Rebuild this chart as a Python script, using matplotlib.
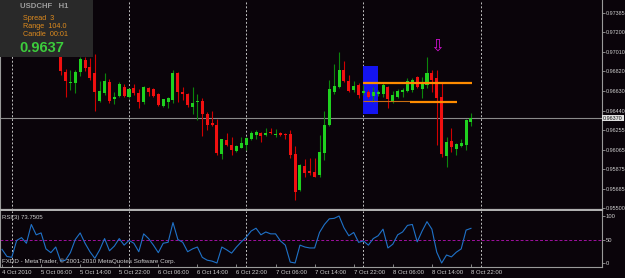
import numpy as np
import matplotlib
matplotlib.use("Agg")
import matplotlib.pyplot as plt
import matplotlib.transforms as mtransforms
from matplotlib.patches import Rectangle

plt.rcParams["font.family"] = ["Liberation Sans", "DejaVu Sans"]

# USDCHF H1, one candle per hour from 4 Oct 2010 22:00 to 8 Oct 2010 22:00
opens = [0.97080, 0.97040, 0.97010, 0.97000, 0.97060, 0.97080, 0.97050, 0.97160, 0.97110, 0.97130,
         0.97040, 0.96990, 0.96970, 0.96815, 0.96708, 0.96708, 0.96815, 0.96931, 0.96863, 0.96805,
         0.96534, 0.96612, 0.96718, 0.96554, 0.96583, 0.96670, 0.96573, 0.96660, 0.96612, 0.96525,
         0.96660, 0.96650, 0.96602, 0.96486, 0.96525, 0.96544, 0.96805, 0.96621, 0.96602, 0.96476,
         0.96525, 0.96534, 0.96409, 0.96322, 0.96302, 0.96022, 0.96157, 0.96109, 0.96051, 0.96080,
         0.96109, 0.96167, 0.96206, 0.96225, 0.96206, 0.96235, 0.96206, 0.96225, 0.96215, 0.96215,
         0.96022, 0.95674, 0.95906, 0.95857, 0.95848, 0.95819, 0.96032, 0.96302, 0.96621, 0.96670,
         0.96834, 0.96728, 0.96641, 0.96689, 0.96612, 0.96621, 0.96583, 0.96602, 0.96602, 0.96670,
         0.96534, 0.96573, 0.96621, 0.96631, 0.96641, 0.96766, 0.96650, 0.96689, 0.96805, 0.96757,
         0.96573, 0.96003, 0.96148, 0.96070, 0.96099, 0.96109, 0.96331]
highs = [0.97110, 0.97060, 0.97030, 0.97080, 0.97110, 0.97095, 0.97190, 0.97170, 0.97150, 0.97140,
         0.97060, 0.97030, 0.97028, 0.96844, 0.96834, 0.96834, 0.96960, 0.96960, 0.96950, 0.96989,
         0.96728, 0.96805, 0.96747, 0.96621, 0.96718, 0.96699, 0.96660, 0.96699, 0.96650, 0.96679,
         0.96670, 0.96660, 0.96612, 0.96554, 0.96573, 0.96834, 0.96815, 0.96670, 0.96612, 0.96670,
         0.96602, 0.96563, 0.96428, 0.96438, 0.96360, 0.96167, 0.96225, 0.96186, 0.96109, 0.96186,
         0.96186, 0.96244, 0.96254, 0.96235, 0.96273, 0.96273, 0.96264, 0.96235, 0.96225, 0.96254,
         0.96099, 0.95925, 0.95974, 0.95983, 0.95983, 0.96206, 0.96438, 0.96737, 0.96892, 0.97008,
         0.96921, 0.96786, 0.96728, 0.96708, 0.96689, 0.96641, 0.96670, 0.96641, 0.96708, 0.96679,
         0.96631, 0.96650, 0.96660, 0.96757, 0.96757, 0.96776, 0.96766, 0.96960, 0.96834, 0.96834,
         0.96718, 0.96186, 0.96273, 0.96128, 0.96167, 0.96360, 0.96418]
lows = [0.97020, 0.96990, 0.96975, 0.96985, 0.97040, 0.97030, 0.97040, 0.97090, 0.97085, 0.97020,
        0.96975, 0.96970, 0.96786, 0.96573, 0.96641, 0.96612, 0.96776, 0.96824, 0.96737, 0.96438,
        0.96525, 0.96592, 0.96515, 0.96505, 0.96573, 0.96573, 0.96563, 0.96592, 0.96467, 0.96505,
        0.96583, 0.96573, 0.96486, 0.96476, 0.96467, 0.96515, 0.96525, 0.96544, 0.96476, 0.96409,
        0.96351, 0.96196, 0.96254, 0.96293, 0.96012, 0.95974, 0.96099, 0.96012, 0.96041, 0.96076,
        0.96061, 0.96157, 0.96167, 0.96138, 0.96196, 0.96215, 0.96186, 0.96196, 0.96167, 0.95983,
        0.95577, 0.95664, 0.95800, 0.95819, 0.95795, 0.95800, 0.95964, 0.96293, 0.96602, 0.96660,
        0.96718, 0.96621, 0.96621, 0.96563, 0.96592, 0.96563, 0.96525, 0.96583, 0.96573, 0.96467,
        0.96515, 0.96563, 0.96573, 0.96621, 0.96621, 0.96660, 0.96563, 0.96660, 0.96621, 0.96109,
        0.95993, 0.95896, 0.96041, 0.96012, 0.96090, 0.96061, 0.96293]
closes = [0.97040, 0.97010, 0.97000, 0.97060, 0.97080, 0.97050, 0.97160, 0.97110, 0.97130, 0.97040,
          0.96990, 0.97010, 0.96824, 0.96728, 0.96718, 0.96815, 0.96941, 0.96854, 0.96757, 0.96621,
          0.96631, 0.96728, 0.96534, 0.96573, 0.96699, 0.96583, 0.96650, 0.96612, 0.96525, 0.96670,
          0.96621, 0.96583, 0.96496, 0.96554, 0.96563, 0.96805, 0.96621, 0.96602, 0.96496, 0.96515,
          0.96534, 0.96409, 0.96302, 0.96302, 0.96032, 0.96167, 0.96109, 0.96061, 0.96099, 0.96128,
          0.96177, 0.96225, 0.96235, 0.96196, 0.96225, 0.96225, 0.96215, 0.96206, 0.96206, 0.96012,
          0.95654, 0.95916, 0.95838, 0.95838, 0.95800, 0.96041, 0.96302, 0.96650, 0.96679, 0.96834,
          0.96728, 0.96631, 0.96679, 0.96592, 0.96631, 0.96573, 0.96621, 0.96621, 0.96689, 0.96554,
          0.96592, 0.96631, 0.96641, 0.96728, 0.96737, 0.96670, 0.96718, 0.96805, 0.96737, 0.96563,
          0.96022, 0.96138, 0.96090, 0.96119, 0.96128, 0.96351, 0.96370]

rsi = [29, 14, 12, 48, 54, 42, 82, 60, 64, 30, 22, 34, 4, 6, 22, 50, 64, 42, 24, 10,
       28, 52, 26, 36, 52, 38, 48, 42, 24, 62, 52, 38, 22, 42, 44, 86, 50, 44, 24, 30,
       34, 12, 6, 4, 0, 34, 28, 21, 34, 45, 55, 68, 74, 60, 66, 62, 62, 47, 38, 2,
       0, 38, 34, 32, 32, 65, 82, 94, 95, 100, 75, 58, 65, 44, 47, 38, 52, 58, 72, 32,
       40, 60, 66, 80, 82, 45, 68, 88, 72, 23, 0, 17, 13, 23, 30, 70, 73.75]

price_ticks = [0.97385, 0.97200, 0.97010, 0.96820, 0.96630, 0.96440,
               0.96255, 0.96065, 0.95875, 0.95685, 0.95500]
time_labels = ["4 Oct 2010", "5 Oct 06:00", "5 Oct 14:00", "5 Oct 22:00", "6 Oct 06:00",
               "6 Oct 14:00", "6 Oct 22:00", "7 Oct 06:00", "7 Oct 14:00", "7 Oct 22:00",
               "8 Oct 06:00", "8 Oct 14:00", "8 Oct 22:00"]
time_label_idx = list(range(0, 97, 8))
day_starts = [2, 26, 50, 74, 98]  # 00:00 of each day
bid = 0.96370

# objects drawn on the chart (candle index, price)
zone = (74.0, 77.0, 0.96409, 0.96876)
level_hi = (73.9, 96.2, 0.96711)
level_lo_thin = (73.9, 83.7, 0.96537)
level_lo = (83.5, 93.1, 0.96528)
arrow_at = (89.1, 0.97066)

BG = "#0a040a"
GREEN = "#1fd11f"
RED = "#f01010"
GRID = "#9a9a9a"
TXT = "#d0d0d0"
FS = 3.9

W, H = 625, 278
fig = plt.figure(figsize=(W / 100, H / 100), dpi=100, facecolor=BG)
step, x0 = 4.885, 2.0
xlim = (-x0 / step, (602 - x0) / step)

ax = fig.add_axes([0, (H - 210) / H, 602 / W, 210 / H], facecolor=BG)
rax = fig.add_axes([0, (H - 267) / H, 602 / W, 56 / H], facecolor=BG)

# candles: dark shadows for bull bars, red for bear bars
o, hi, lo, c = map(np.array, (opens, highs, lows, closes))
idx = np.arange(len(o))
bull = c >= o
col = np.where(bull, GREEN, RED)
wick = np.where(bull, "#0b860b", "#d00000")
ax.vlines(idx, lo, hi, colors=wick, lw=0.8, zorder=3)
ax.bar(idx, np.maximum(np.abs(c - o), 0.00005), bottom=np.minimum(o, c),
       width=0.62, color=col, linewidth=0, zorder=4)

ax.axhline(bid, color="#8a8a8a", lw=0.8, zorder=2)
for d in day_starts:
    for a in (ax, rax):
        a.axvline(d, color="#c0c0c0", lw=0.7, ls=(0, (2, 2)), zorder=1)

ax.add_patch(Rectangle((zone[0], zone[2]), zone[1] - zone[0], zone[3] - zone[2],
                       facecolor="#1414f0", edgecolor="none", zorder=2))
ax.hlines(level_hi[2], level_hi[0], level_hi[1], color="#ff8c00", lw=1.6, zorder=5)
ax.hlines(level_lo_thin[2], level_lo_thin[0], level_lo_thin[1], color="#c86e10", lw=0.8, zorder=5)
ax.hlines(level_lo[2], level_lo[0], level_lo[1], color="#ff8c00", lw=1.6, zorder=5)
ax.text(arrow_at[0], arrow_at[1], "\u21e9", color="#d010d0", fontsize=12,
        family="DejaVu Sans", ha="center", va="center", zorder=6)

ax.set_xlim(xlim)
ax.set_ylim(bid - 92 / 10345, bid + 118 / 10345)
ax.yaxis.tick_right()
ax.set_yticks(price_ticks)
ax.set_yticklabels([f"{p:.5f}" for p in price_ticks])
ax.tick_params(axis="y", length=2, width=0.6, color=GRID, labelsize=FS,
               labelcolor=TXT, pad=0.5)
ax.tick_params(axis="x", bottom=False, labelbottom=False)
ax.spines["top"].set_visible(False)
ax.spines["right"].set_color(GRID)
ax.spines["left"].set_color(GRID)
ax.spines["bottom"].set_color("#b0b0b0")
ax.spines["bottom"].set_linewidth(1.6)

btr = mtransforms.blended_transform_factory(ax.transAxes, ax.transData)
ax.text(1.002, bid, f"{bid:.5f}", transform=btr, fontsize=FS, color="#101010",
        va="center", ha="left", zorder=7,
        bbox=dict(facecolor="#e0e0e0", edgecolor="none", pad=0.5))

# RSI panel
rax.plot(idx, rsi, color="#1f72c8", lw=0.8, zorder=3)
rax.axhline(50, color="#a010a0", lw=0.7, ls=(0, (3, 2)), zorder=2)
rax.set_xlim(xlim)
rax.set_ylim((263 - 267) / 0.47, (263 - 211) / 0.47)
rax.yaxis.tick_right()
rax.set_yticks([0, 50, 100])
rax.tick_params(axis="y", length=2, width=0.6, color=GRID, labelsize=FS + 0.3,
                labelcolor=TXT, pad=0.5)
rax.set_xticks(time_label_idx)
rax.set_xticklabels(time_labels, ha="left")
rax.tick_params(axis="x", direction="in", length=2.5, width=0.6, color=GRID,
                labelsize=FS + 0.4, labelcolor=TXT, pad=2)
rax.spines["top"].set_visible(False)
for s in ("right", "left", "bottom"):
    rax.spines[s].set_color(GRID)
rax.text(0.004, 0.93, f"RSI(3) {73.7505:.4f}", transform=rax.transAxes,
         fontsize=FS + 0.4, color=TXT, va="top", ha="left")
rax.text(0.004, 0.05, "FXDD - MetaTrader, \u00a9 2001-2010 MetaQuotes Software Corp.",
         transform=rax.transAxes, fontsize=FS + 0.6, color=TXT, va="bottom", ha="left")

# info panel in the corner
box = fig.add_axes([0, (H - 57) / H, 93 / W, 57 / H], facecolor="#292929")
box.set_xlim(0, 93)
box.set_ylim(57, 0)
box.set_xticks([])
box.set_yticks([])
for s in box.spines.values():
    s.set_visible(False)
box.text(20, 7, "USDCHF   H1", color="#9c9c9c", fontsize=5.6, fontweight="bold", va="center")
box.text(23, 18, "Spread  3", color="#dd8a1e", fontsize=5.2, va="center")
box.text(23, 26.5, "Range  104.0", color="#dd8a1e", fontsize=5.2, va="center")
box.text(23, 35, "Candle  00:01", color="#dd8a1e", fontsize=5.2, va="center")
box.text(19, 48, "0.9637", color="#3ccc3c", fontsize=10.5, fontweight="bold", va="center")

fig.savefig("out.png", dpi=100, facecolor=BG)
